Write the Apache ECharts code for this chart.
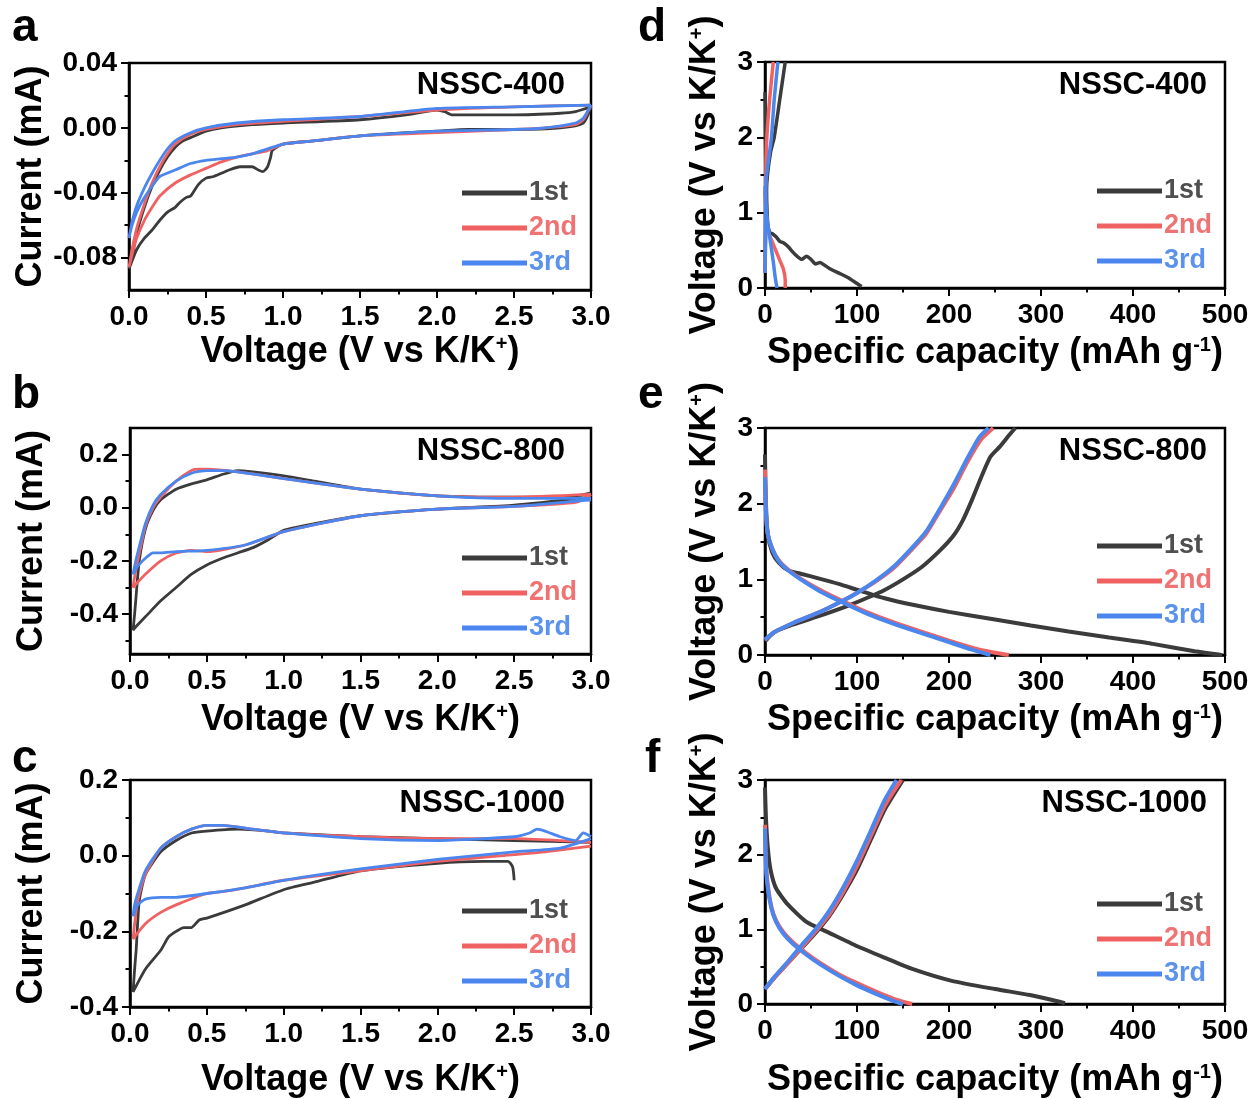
<!DOCTYPE html>
<html>
<head>
<meta charset="utf-8">
<script src="https://cdn.jsdelivr.net/npm/echarts@6/dist/echarts.min.js"></script>
<style>
html,body{margin:0;padding:0;background:#fff;}
#chart{width:1253px;height:1099px;}
</style>
</head>
<body>
<div id="chart"></div>
<script>
// ---------------- DATA ----------------
const SERIES_NAMES = ['1st', '2nd', '3rd'];
const SAMPLES = ['NSSC-400', 'NSSC-800', 'NSSC-1000'];
const PANEL_LETTERS = ['a', 'b', 'c', 'd', 'e', 'f'];

// tick labels
const CV_X_TICKS = [0, 0.5, 1.0, 1.5, 2.0, 2.5, 3.0];
const CV_X_MINOR = [0.25, 0.75, 1.25, 1.75, 2.25, 2.75];
const A_Y_TICKS = [-0.08, -0.04, 0, 0.04];
const A_Y_MINOR = [-0.06, -0.02, 0.02];
const B_Y_TICKS = [-0.4, -0.2, 0, 0.2];
const B_Y_MINOR = [-0.5, -0.3, -0.1, 0.1];
const C_Y_TICKS = [-0.4, -0.2, 0, 0.2];
const C_Y_MINOR = [-0.3, -0.1, 0.1];
const GCD_X_TICKS = [0, 100, 200, 300, 400, 500];
const GCD_X_MINOR = [50, 150, 250, 350, 450];
const GCD_Y_TICKS = [0, 1, 2, 3];
const GCD_Y_MINOR = [0.5, 1.5, 2.5];

// (a) CV NSSC-400 : [voltage, current]
const cvA_1st = [[3.0,0.013],[2.95,0.003],[2.8,0.000],[2.5,-0.001],[2.2,-0.001],[2.0,-0.002],[1.8,-0.003],[1.5,-0.005],[1.2,-0.008],[1.0,-0.010],[0.93,-0.014],[0.92,-0.018],[0.9,-0.024],[0.87,-0.027],[0.84,-0.026],[0.8,-0.024],[0.72,-0.024],[0.65,-0.026],[0.6,-0.028],[0.55,-0.030],[0.5,-0.031],[0.45,-0.035],[0.4,-0.042],[0.37,-0.043],[0.33,-0.046],[0.3,-0.049],[0.25,-0.052],[0.2,-0.057],[0.15,-0.063],[0.1,-0.068],[0.05,-0.075],[0.02,-0.082],[0.0,-0.087],
  [0.02,-0.080],[0.05,-0.065],[0.1,-0.049],[0.15,-0.036],[0.2,-0.026],[0.25,-0.018],[0.3,-0.012],[0.35,-0.008],[0.4,-0.006],[0.5,-0.002],[0.6,0.000],[0.8,0.002],[1.0,0.003],[1.5,0.005],[1.8,0.008],[2.0,0.011],[2.05,0.010],[2.1,0.008],[2.5,0.008],[2.8,0.009],[2.9,0.010],[3.0,0.013]];
const cvA_2nd = [[3.0,0.014],[2.95,0.005],[2.9,0.002],[2.7,0.000],[2.5,-0.001],[2.0,-0.003],[1.5,-0.005],[1.2,-0.008],[1.0,-0.010],[0.9,-0.014],[0.8,-0.016],[0.7,-0.018],[0.6,-0.021],[0.5,-0.025],[0.4,-0.029],[0.3,-0.034],[0.2,-0.042],[0.15,-0.049],[0.1,-0.057],[0.05,-0.068],[0.02,-0.078],[0.0,-0.086],
  [0.02,-0.075],[0.05,-0.062],[0.1,-0.047],[0.15,-0.034],[0.2,-0.024],[0.25,-0.016],[0.3,-0.010],[0.4,-0.004],[0.5,-0.001],[0.7,0.002],[1.0,0.004],[1.5,0.007],[2.0,0.011],[2.5,0.013],[3.0,0.014]];
const cvA_3rd = [[3.0,0.014],[2.95,0.006],[2.9,0.003],[2.7,0.000],[2.5,-0.001],[2.0,-0.002],[1.5,-0.005],[1.2,-0.008],[1.0,-0.010],[0.9,-0.013],[0.8,-0.016],[0.7,-0.018],[0.6,-0.019],[0.5,-0.020],[0.4,-0.022],[0.3,-0.026],[0.2,-0.030],[0.15,-0.036],[0.1,-0.043],[0.05,-0.052],[0.02,-0.060],[0.0,-0.068],
  [0.02,-0.058],[0.05,-0.048],[0.1,-0.037],[0.15,-0.028],[0.2,-0.020],[0.25,-0.013],[0.3,-0.008],[0.4,-0.003],[0.5,0.000],[0.7,0.003],[1.0,0.005],[1.5,0.007],[2.0,0.012],[2.5,0.013],[3.0,0.014]];

// (b) CV NSSC-800
const cvB_1st = [[3.0,0.04],[2.5,0.01],[2.0,-0.005],[1.5,-0.03],[1.2,-0.06],[1.0,-0.085],[0.9,-0.12],[0.8,-0.15],[0.7,-0.17],[0.6,-0.19],[0.5,-0.215],[0.4,-0.25],[0.3,-0.30],[0.2,-0.35],[0.1,-0.41],[0.05,-0.44],[0.02,-0.46],
  [0.03,-0.40],[0.04,-0.33],[0.06,-0.20],[0.1,-0.08],[0.15,-0.01],[0.2,0.03],[0.3,0.07],[0.4,0.09],[0.5,0.105],[0.6,0.125],[0.7,0.14],[0.8,0.135],[1.0,0.12],[1.2,0.10],[1.5,0.07],[2.0,0.045],[2.5,0.04],[2.9,0.045],[3.0,0.055]];
const cvB_2nd = [[3.0,0.05],[2.9,0.02],[2.5,0.005],[2.0,-0.005],[1.5,-0.03],[1.0,-0.09],[0.75,-0.14],[0.5,-0.165],[0.4,-0.16],[0.3,-0.17],[0.2,-0.20],[0.1,-0.25],[0.05,-0.28],[0.02,-0.30],
  [0.03,-0.26],[0.05,-0.20],[0.1,-0.07],[0.15,0.00],[0.2,0.04],[0.3,0.10],[0.4,0.14],[0.45,0.145],[0.5,0.145],[0.7,0.135],[1.0,0.11],[1.5,0.07],[2.0,0.045],[2.5,0.04],[3.0,0.05]];
const cvB_3rd = [[3.0,0.03],[2.5,0.005],[2.0,-0.005],[1.5,-0.03],[1.0,-0.09],[0.75,-0.14],[0.5,-0.16],[0.3,-0.165],[0.2,-0.17],[0.15,-0.17],[0.1,-0.19],[0.05,-0.22],[0.02,-0.25],
  [0.03,-0.22],[0.05,-0.17],[0.1,-0.06],[0.15,0.01],[0.2,0.05],[0.3,0.10],[0.4,0.13],[0.5,0.14],[0.6,0.14],[0.7,0.135],[1.0,0.11],[1.5,0.07],[2.0,0.045],[2.5,0.035],[3.0,0.035]];

// (c) CV NSSC-1000
const cvC_1st = [[2.5,-0.065],[2.49,-0.03],[2.46,-0.015],[2.3,-0.015],[2.0,-0.02],[1.5,-0.04],[1.2,-0.07],[1.0,-0.09],[0.75,-0.13],[0.5,-0.165],[0.45,-0.17],[0.4,-0.19],[0.35,-0.19],[0.3,-0.20],[0.25,-0.215],[0.2,-0.25],[0.1,-0.30],[0.02,-0.36],
  [0.03,-0.30],[0.04,-0.25],[0.06,-0.12],[0.1,-0.05],[0.2,0.01],[0.3,0.04],[0.4,0.06],[0.5,0.065],[0.7,0.07],[0.9,0.065],[1.0,0.06],[1.5,0.05],[2.0,0.045],[2.5,0.04],[3.0,0.035]];
const cvC_2nd = [[3.0,0.025],[2.7,0.01],[2.5,0.003],[2.0,-0.015],[1.5,-0.04],[1.0,-0.065],[0.75,-0.085],[0.6,-0.095],[0.5,-0.10],[0.3,-0.13],[0.2,-0.15],[0.1,-0.18],[0.02,-0.22],
  [0.03,-0.18],[0.05,-0.12],[0.1,-0.05],[0.2,0.02],[0.3,0.05],[0.4,0.07],[0.5,0.08],[0.6,0.08],[0.8,0.07],[1.0,0.06],[1.5,0.05],[2.0,0.045],[2.5,0.045],[2.8,0.04],[3.0,0.035]];
const cvC_3rd = [[3.0,0.045],[2.8,0.02],[2.5,0.01],[2.0,-0.01],[1.5,-0.035],[1.0,-0.065],[0.75,-0.085],[0.5,-0.10],[0.3,-0.11],[0.2,-0.11],[0.1,-0.115],[0.05,-0.13],[0.02,-0.16],
  [0.03,-0.13],[0.05,-0.10],[0.1,-0.04],[0.2,0.02],[0.3,0.05],[0.4,0.07],[0.5,0.08],[0.6,0.08],[0.8,0.07],[1.0,0.06],[1.5,0.045],[2.0,0.04],[2.5,0.05],[2.6,0.06],[2.65,0.07],[2.7,0.065],[2.8,0.05],[2.9,0.04],[2.95,0.06],[3.0,0.05]];

// (d) GCD NSSC-400 : [capacity, voltage]
const gdD_1st_dis = [[0,2.6],[0.5,2.0],[1,1.5],[2,1.1],[3,0.85],[5,0.74],[8,0.72],[12,0.68],[16,0.62],[20,0.60],[25,0.55],[30,0.48],[35,0.42],[40,0.38],[45,0.42],[50,0.38],[55,0.32],[60,0.34],[65,0.30],[70,0.26],[80,0.20],[90,0.14],[100,0.06],[105,0.02]];
const gdD_1st_chg = [[0,0.2],[1,0.9],[2,1.4],[6,1.8],[10,2.0],[16,2.5],[22,3.0]];
const gdD_2nd_dis = [[0,1.3],[1,1.0],[3,0.8],[5,0.7],[10,0.55],[15,0.4],[20,0.25],[22,0.1],[22,0.0]];
const gdD_2nd_chg = [[0,0.2],[0.5,1.0],[1,1.6],[2,2.0],[5,2.5],[9,3.0]];
const gdD_3rd_dis = [[0,1.35],[1,1.1],[3,0.85],[6,0.6],[9,0.35],[11,0.15],[13,0.0]];
const gdD_3rd_chg = [[0,0.2],[0.5,0.8],[1,1.4],[7,2.0],[10,2.5],[14,3.0]];

// (e) GCD NSSC-800
const gdE_1st_dis = [[0,2.65],[1,2.0],[3,1.6],[8,1.35],[15,1.22],[25,1.12],[40,1.07],[56,1.02],[80,0.94],[103,0.85],[130,0.75],[162,0.66],[200,0.57],[250,0.47],[289,0.39],[330,0.31],[374,0.23],[420,0.15],[467,0.05],[497,0.0]];
const gdE_1st_chg = [[0,0.18],[10,0.30],[30,0.40],[60,0.52],[90,0.65],[110,0.75],[130,0.86],[150,1.0],[170,1.16],[190,1.38],[205,1.58],[215,1.78],[225,2.05],[235,2.35],[245,2.62],[255,2.75],[265,2.9],[272,3.0]];
const gdE_2nd_dis = [[0,2.45],[1,1.9],[3,1.6],[8,1.4],[15,1.25],[25,1.13],[40,1.0],[60,0.86],[85,0.71],[110,0.57],[140,0.43],[170,0.31],[200,0.19],[230,0.08],[250,0.03],[265,0.0]];
const gdE_2nd_chg = [[0,0.2],[10,0.3],[30,0.42],[60,0.57],[85,0.72],[100,0.82],[120,0.97],[140,1.15],[160,1.4],[175,1.6],[190,1.9],[205,2.2],[220,2.55],[235,2.85],[248,3.0]];
const gdE_3rd_dis = [[0,2.35],[1,1.9],[3,1.6],[8,1.4],[15,1.24],[25,1.12],[40,0.99],[60,0.84],[85,0.69],[110,0.55],[140,0.41],[170,0.29],[200,0.17],[225,0.07],[245,0.0]];
const gdE_3rd_chg = [[0,0.2],[10,0.3],[30,0.42],[60,0.57],[85,0.72],[100,0.82],[120,0.98],[140,1.17],[160,1.42],[175,1.63],[190,1.93],[205,2.25],[220,2.6],[233,2.88],[243,3.0]];

// (f) GCD NSSC-1000
const gdF_1st_dis = [[0,2.9],[1,2.5],[3,2.1],[6,1.8],[12,1.55],[25,1.33],[45,1.1],[67,0.97],[101,0.77],[130,0.62],[160,0.47],[203,0.31],[250,0.2],[288,0.12],[310,0.06],[326,0.01]];
const gdF_1st_chg = [[0,0.2],[10,0.35],[25,0.55],[40,0.75],[55,0.95],[70,1.18],[85,1.47],[100,1.8],[115,2.2],[130,2.6],[150,3.0]];
const gdF_2nd_dis = [[0,2.4],[1,1.9],[3,1.6],[7,1.3],[12,1.12],[20,0.96],[30,0.83],[45,0.68],[60,0.55],[80,0.40],[100,0.28],[120,0.17],[140,0.07],[160,0.0]];
const gdF_2nd_chg = [[0,0.2],[10,0.35],[25,0.55],[40,0.76],[55,0.97],[70,1.2],[85,1.5],[100,1.85],[115,2.25],[130,2.65],[148,3.0]];
const gdF_3rd_dis = [[0,2.35],[1,1.85],[3,1.55],[7,1.28],[12,1.1],[20,0.94],[30,0.81],[45,0.66],[60,0.53],[80,0.38],[100,0.25],[120,0.14],[140,0.04],[150,0.0]];
const gdF_3rd_chg = [[0,0.2],[10,0.36],[25,0.57],[40,0.79],[55,1.0],[70,1.25],[85,1.56],[100,1.92],[115,2.32],[130,2.73],[143,3.0]];

// ---------------- STYLE / LAYOUT ----------------
const F = '"Liberation Sans", Arial, Helvetica, sans-serif';
const LINE_COLORS = ['#3b3b3b', '#f06262', '#4a86ee'];
const TEXT_COLORS = ['#4f4f4f', '#f07272', '#5a92ee'];

const CV_X_NAME = 'Voltage (V vs K/K{sup|+})';
const GCD_X_NAME = 'Specific capacity (mAh g{sup|-1})';
const CV_Y_NAME = 'Current (mA)';
const GCD_Y_NAME = 'Voltage (V vs K/K{sup|+})';

const panels = [
  {grid:{left:129, top:63, width:462, height:227}, xMin:0, xMax:3, xT:CV_X_TICKS, xM:CV_X_MINOR, xDec:1, yMin:-0.1, yMax:0.04, yT:A_Y_TICKS, yM:A_Y_MINOR, yDec:2,
   xName:CV_X_NAME, yName:CV_Y_NAME, xGap:44, yGap:80, sample:SAMPLES[0], sRight:688, sTop:70, letter:PANEL_LETTERS[0], lLeft:12, lTop:5,
   legLeft:462, legTop:178, lw:2.8, data:[[cvA_1st],[cvA_2nd],[cvA_3rd]]},
  {grid:{left:130, top:428, width:461, height:226}, xMin:0, xMax:3, xT:CV_X_TICKS, xM:CV_X_MINOR, xDec:1, yMin:-0.55, yMax:0.3, yT:B_Y_TICKS, yM:B_Y_MINOR, yDec:1,
   xName:CV_X_NAME, yName:CV_Y_NAME, xGap:48, yGap:80, sample:SAMPLES[1], sRight:688, sTop:436, letter:PANEL_LETTERS[1], lLeft:12, lTop:372,
   legLeft:462, legTop:543, lw:2.8, data:[[cvB_1st],[cvB_2nd],[cvB_3rd]]},
  {grid:{left:130, top:780, width:461, height:227}, xMin:0, xMax:3, xT:CV_X_TICKS, xM:CV_X_MINOR, xDec:1, yMin:-0.4, yMax:0.2, yT:C_Y_TICKS, yM:C_Y_MINOR, yDec:1,
   xName:CV_X_NAME, yName:CV_Y_NAME, xGap:55, yGap:80, sample:SAMPLES[2], sRight:688, sTop:788, letter:PANEL_LETTERS[2], lLeft:12, lTop:736,
   legLeft:462, legTop:896, lw:2.8, data:[[cvC_1st],[cvC_2nd],[cvC_3rd]]},
  {grid:{left:765, top:62, width:460, height:226}, xMin:0, xMax:500, xT:GCD_X_TICKS, xM:GCD_X_MINOR, xDec:0, yMin:0, yMax:3, yT:GCD_Y_TICKS, yM:GCD_Y_MINOR, yDec:0,
   xName:GCD_X_NAME, yName:GCD_Y_NAME, xGap:47, yGap:42, sample:SAMPLES[0], sRight:46, sTop:70, letter:PANEL_LETTERS[3], lLeft:638, lTop:5,
   legLeft:1097, legTop:176, lw:3.5, data:[[gdD_1st_dis, gdD_1st_chg],[gdD_2nd_dis, gdD_2nd_chg],[gdD_3rd_dis, gdD_3rd_chg]]},
  {grid:{left:765, top:428, width:460, height:227}, xMin:0, xMax:500, xT:GCD_X_TICKS, xM:GCD_X_MINOR, xDec:0, yMin:0, yMax:3, yT:GCD_Y_TICKS, yM:GCD_Y_MINOR, yDec:0,
   xName:GCD_X_NAME, yName:GCD_Y_NAME, xGap:47, yGap:42, sample:SAMPLES[1], sRight:46, sTop:436, letter:PANEL_LETTERS[4], lLeft:638, lTop:372,
   legLeft:1097, legTop:531, lw:4, data:[[gdE_1st_dis, gdE_1st_chg],[gdE_2nd_dis, gdE_2nd_chg],[gdE_3rd_dis, gdE_3rd_chg]]},
  {grid:{left:765, top:780, width:460, height:224}, xMin:0, xMax:500, xT:GCD_X_TICKS, xM:GCD_X_MINOR, xDec:0, yMin:0, yMax:3, yT:GCD_Y_TICKS, yM:GCD_Y_MINOR, yDec:0,
   xName:GCD_X_NAME, yName:GCD_Y_NAME, xGap:58, yGap:42, sample:SAMPLES[2], sRight:46, sTop:788, letter:PANEL_LETTERS[5], lLeft:645, lTop:736,
   legLeft:1097, legTop:889, lw:4, data:[[gdF_1st_dis, gdF_1st_chg],[gdF_2nd_dis, gdF_2nd_chg],[gdF_3rd_dis, gdF_3rd_chg]]}
];

const nameStyle = {
  fontSize: 36, fontWeight: 'bold', color: '#000', fontFamily: F,
  rich: { sup: { fontSize: 20, fontWeight: 'bold', color: '#000', fontFamily: F, verticalAlign: 'top', lineHeight: 20 } }
};
const labelStyle = { fontSize: 28, fontWeight: 'bold', color: '#000', fontFamily: F };

const option = { animation: false, backgroundColor: '#fff', grid: [], xAxis: [], yAxis: [], series: [], legend: [], title: [] };

panels.forEach((p, i) => {
  option.grid.push(Object.assign({ show: true, borderColor: '#000', borderWidth: 2.5, backgroundColor: 'transparent' }, p.grid));
  option.xAxis.push({
    gridIndex: i, type: 'value', min: p.xMin, max: p.xMax, position: 'bottom',
    axisLine: { show: true, onZero: false, lineStyle: { color: '#000', width: 2.5 } },
    axisTick: { show: true, inside: false, length: 8, customValues: p.xT, lineStyle: { color: '#000', width: 2 } },
    axisLabel: Object.assign({ show: true, margin: 13, customValues: p.xT, formatter: (v) => Number(v).toFixed(p.xDec) }, labelStyle),
    splitLine: { show: false },
    name: p.xName, nameLocation: 'middle', nameGap: p.xGap, nameTextStyle: nameStyle
  });
  option.xAxis.push({
    gridIndex: i, type: 'value', min: p.xMin, max: p.xMax, position: 'bottom',
    axisLine: { show: false, onZero: false },
    axisTick: { show: true, inside: false, length: 4.5, customValues: p.xM, lineStyle: { color: '#000', width: 2 } },
    axisLabel: { show: false }, splitLine: { show: false }
  });
  option.yAxis.push({
    gridIndex: i, type: 'value', min: p.yMin, max: p.yMax, position: 'left',
    axisLine: { show: true, onZero: false, lineStyle: { color: '#000', width: 2.5 } },
    axisTick: { show: true, inside: false, length: 8, customValues: p.yT, lineStyle: { color: '#000', width: 2 } },
    axisLabel: Object.assign({ show: true, margin: 12, customValues: p.yT, formatter: (v) => Number(v).toFixed(p.yDec) }, labelStyle),
    splitLine: { show: false },
    name: p.yName, nameLocation: 'middle', nameGap: p.yGap, nameTextStyle: nameStyle
  });
  option.yAxis.push({
    gridIndex: i, type: 'value', min: p.yMin, max: p.yMax, position: 'left',
    axisLine: { show: false, onZero: false },
    axisTick: { show: true, inside: false, length: 4.5, customValues: p.yM, lineStyle: { color: '#000', width: 2 } },
    axisLabel: { show: false }, splitLine: { show: false }
  });
  p.data.forEach((segs, k) => {
    segs.forEach((seg) => {
      option.series.push({
        type: 'line', name: SERIES_NAMES[k], xAxisIndex: 2 * i, yAxisIndex: 2 * i,
        data: seg, symbol: 'none', showSymbol: false, smooth: 0.2,
        lineStyle: { width: p.lw, color: LINE_COLORS[k] }, itemStyle: { color: LINE_COLORS[k] },
        z: 2 + k
      });
    });
  });
  option.legend.push({
    orient: 'vertical', left: p.legLeft, top: p.legTop, padding: 0, icon: 'rect',
    itemWidth: 65, itemHeight: 5, itemGap: 5, selectedMode: false,
    textStyle: { fontSize: 27, fontWeight: 'bold', fontFamily: F, padding: [0, 0, 0, -3], lineHeight: 30 },
    data: SERIES_NAMES.map((n, k) => ({ name: n, textStyle: { color: TEXT_COLORS[k] } }))
  });
  option.title.push({
    text: p.sample, right: p.sRight, top: p.sTop, padding: 0,
    textStyle: { fontSize: 31, fontWeight: 'bold', color: '#000', fontFamily: F }
  });
  option.title.push({
    text: p.letter, left: p.lLeft, top: p.lTop, padding: 0,
    textStyle: { fontSize: 46, fontWeight: 'bold', color: '#000', fontFamily: F }
  });
});

const chart = echarts.init(document.getElementById('chart'), null, { renderer: 'canvas' });
chart.setOption(option);
</script>
</body>
</html>
